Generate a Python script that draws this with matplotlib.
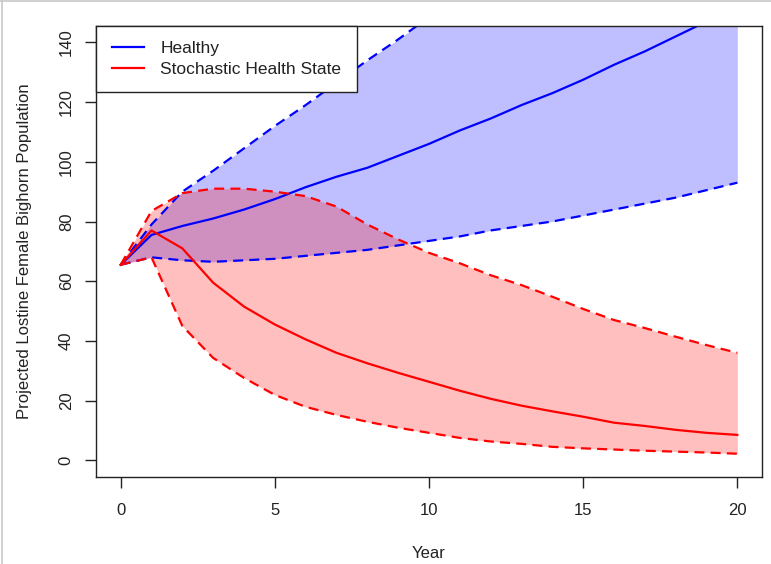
import matplotlib
matplotlib.use("Agg")
import matplotlib.pyplot as plt
from matplotlib.lines import Line2D

plt.rcParams['font.family'] = ['Liberation Sans', 'DejaVu Sans']

years = list(range(0, 21))

healthy_mean = [65.5, 75.5, 78.5, 81, 84, 87.5, 91.5, 95, 98, 102, 106,
                110.5, 114.5, 119, 123, 127.5, 132.5, 137, 142, 147, 152]
healthy_lower = [65.5, 68, 67, 66.5, 67, 67.5, 68.5, 69.5, 70.5, 72, 73.5,
                 75, 77, 78.5, 80, 82, 84, 86, 88, 90.5, 93]
healthy_upper = [65.5, 79, 90, 97, 104.5, 112, 119, 126.5, 134, 141, 148.5,
                 156, 164, 172, 180, 188, 196, 205, 214, 223, 232]

stoch_mean = [65.5, 77, 71, 59.5, 51.5, 45.5, 40.5, 36, 32.5, 29.3, 26.3,
              23.3, 20.6, 18.3, 16.4, 14.6, 12.6, 11.5, 10.2, 9.2, 8.5]
stoch_lower = [65.5, 68, 45, 34.3, 27.6, 21.9, 17.9, 15.2, 12.9, 10.9, 9.2,
               7.5, 6.3, 5.5, 4.5, 4, 3.6, 3.2, 2.9, 2.6, 2.2]
stoch_upper = [65.5, 83.5, 89.5, 91, 91, 90, 88.5, 85, 79, 74, 69.5,
               66, 62, 58.7, 54.8, 50.7, 47, 44.3, 41.4, 38.6, 36]

fig = plt.figure(figsize=(7.71, 5.64), dpi=100)
ax = fig.add_axes([96/771, 87/564, 666/771, 451.3/564])

txt = '#222222'
lw = 1.6
dash = (4.5, 2.8)

# healthy band
ax.fill_between(years, healthy_lower, healthy_upper, color=(0, 0, 1, 0.25), lw=0)
ax.plot(years, healthy_mean, color='blue', lw=lw)
ax.plot(years, healthy_lower, color='blue', lw=lw, dashes=dash)
ax.plot(years, healthy_upper, color='blue', lw=lw, dashes=dash)

# stochastic band
ax.fill_between(years, stoch_lower, stoch_upper, color=(1, 0, 0, 0.25), lw=0)
ax.plot(years, stoch_mean, color='red', lw=lw)
ax.plot(years, stoch_lower, color='red', lw=lw, dashes=dash)
ax.plot(years, stoch_upper, color='red', lw=lw, dashes=dash)

ax.set_xlim(-0.8, 20.8)
ax.set_ylim(-5.6, 145.6)
ax.set_xticks([0, 5, 10, 15, 20])
ax.set_yticks([0, 20, 40, 60, 80, 100, 120, 140])
ax.tick_params(axis='both', length=8, width=1, color='#222222',
               labelsize=12, labelcolor=txt)
ax.tick_params(axis='x', pad=11)
ax.tick_params(axis='y', pad=8)
for lab in ax.get_yticklabels():
    lab.set_rotation(90)
    lab.set_va('center')
for sp in ax.spines.values():
    sp.set_color('#222222')
    sp.set_linewidth(1)

ax.set_xlabel('Year', fontsize=12, color=txt, labelpad=20)
ax.set_ylabel('Projected Lostine Female Bighorn Population', fontsize=12,
              color=txt, labelpad=19)

handles = [Line2D([], [], color='blue', lw=lw),
           Line2D([], [], color='red', lw=lw)]
leg = ax.legend(handles, ['Healthy', 'Stochastic Health State'],
                loc='upper left', bbox_to_anchor=(0, 1), borderaxespad=0,
                fontsize=12.5, fancybox=False, framealpha=1, edgecolor='#222222',
                handlelength=1.85, handletextpad=0.95, labelspacing=0.3,
                borderpad=0.9)
leg.get_frame().set_linewidth(1)
for t in leg.get_texts():
    t.set_color(txt)

# light frame of the screenshot
fig.add_artist(Line2D([0, 1], [0.998, 0.998], transform=fig.transFigure,
                      color='#c8c8c8', lw=1.2))
fig.add_artist(Line2D([0.003, 0.003], [0, 1], transform=fig.transFigure,
                      color='#c8c8c8', lw=1.2))

fig.savefig('out.png', dpi=100)
